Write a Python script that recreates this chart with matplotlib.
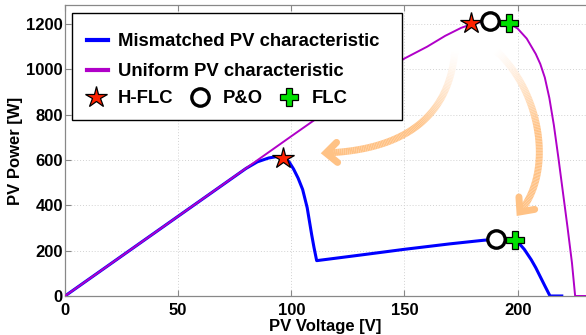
import numpy as np
import matplotlib
matplotlib.use('Agg')
import matplotlib.pyplot as plt
from matplotlib.lines import Line2D
from matplotlib.patches import Rectangle
from matplotlib.collections import LineCollection

plt.rcParams['font.family'] = ['Liberation Sans', 'DejaVu Sans']
plt.rcParams['font.weight'] = 'bold'

# ---------------- data ----------------
v_uniform = [0, 50, 100, 140, 150, 160, 168, 175, 180, 185, 189, 193, 196, 200,
             204, 208, 210, 212, 214, 216, 218, 220, 222, 224, 225.4, 230.2]
p_uniform = [0, 352, 705, 985, 1048, 1100, 1148, 1183, 1201, 1211, 1214, 1211, 1204, 1180,
             1136, 1068, 1024, 964, 874, 754, 610, 458, 306, 146, 0, 0]

v_mismatch = [0, 50, 80, 85, 90, 93.5, 97, 99, 101, 103, 105, 107, 109, 110, 111.2,
              130, 150, 170, 185, 190, 194, 197, 199, 201, 203, 206, 208, 210, 212, 214.3, 219.5]
p_mismatch = [0, 352, 563, 592, 609, 615, 610, 592, 560, 520, 470, 390, 270, 215, 156,
              180, 206, 230, 246, 250, 252, 250, 245, 228, 205, 160, 125, 85, 45, 0, 0]

hflc_v = [179.3, 96.5]
hflc_p = [1204, 611]
po_v = [187.8, 190.5]
po_p = [1212, 250]
flc_v = [196.3, 198.8]
flc_p = [1204, 247]

x_ticks = [0, 50, 100, 150, 200]
y_ticks = [0, 200, 400, 600, 800, 1000, 1200]

# arrow annotations (Bezier control points, data units)
arrow1_v = [172.3, 168.8, 115.3]
arrow1_p = [1086, 653, 631]
arrow2_v = [190.0, 209.9, 216.5, 201.0]
arrow2_p = [1086, 909, 556, 371]

labels_lines = ['Mismatched PV characteristic', 'Uniform PV characteristic']
labels_markers = ['H-FLC', 'P&O', 'FLC']

BLUE = '#0000FF'
MAG = '#B000C8'
RED = '#FF2200'
GREEN = '#00E000'
ORANGE = np.array([1.0, 0.76, 0.52])

# ---------------- figure ----------------
fig = plt.figure(figsize=(5.86, 3.35), dpi=100)
ax = fig.add_axes([65/586, 39/335, 521/586, 291/335])
ax.set_xlim(0, 230.2)
ax.set_ylim(0, 1284)

ax.plot(v_mismatch, p_mismatch, color=BLUE, lw=2.2, zorder=2, solid_joinstyle='round')
ax.plot(v_uniform, p_uniform, color=MAG, lw=1.4, zorder=3, solid_joinstyle='round')

ax.plot(hflc_v, hflc_p, ls='none', marker='*', ms=16, mfc=RED, mec='k', mew=0.9, zorder=4)
ax.plot(po_v, po_p, ls='none', marker='o', ms=12.5, mfc='white', mec='k', mew=2.4, zorder=4)
ax.plot(flc_v, flc_p, ls='none', marker='P', ms=13, mfc=GREEN, mec='k', mew=0.9, zorder=4)

ax.set_xticks(x_ticks)
ax.set_yticks(y_ticks)
ax.grid(True, color='#d2d2d2', linestyle=(0, (1, 2)), lw=0.7)
ax.set_axisbelow(True)
for s in ['top', 'bottom', 'left']:
    ax.spines[s].set_color('#888888')
    ax.spines[s].set_linewidth(0.9)
ax.spines['right'].set_visible(False)
ax.tick_params(axis='both', direction='in', length=4, color='#888888',
               labelsize=12, top=True, right=False)
ax.tick_params(axis='x', pad=5)
ax.tick_params(axis='y', pad=1.5)
ax.set_xlabel('PV Voltage [V]', fontsize=12, fontweight='bold', labelpad=0.5)
ax.set_ylabel('PV Power [W]', fontsize=12, fontweight='bold', labelpad=2)


# ---------------- arrows ----------------
def bezier(pts, t):
    pts = np.asarray(pts, float)
    out = []
    for tt in t:
        p = pts.copy()
        while len(p) > 1:
            p = (1 - tt) * p[:-1] + tt * p[1:]
        out.append(p[0])
    return np.array(out)


def draw_arrow(vs, ps):
    ctrl = ax.transData.transform(np.column_stack([vs, ps]))
    t = np.linspace(0, 1, 120)
    pts = bezier(ctrl, t)
    segs = np.stack([pts[:-1], pts[1:]], axis=1)
    a = np.clip(t[:-1] / 0.5, 0, 1) ** 1.2
    cols = np.array([(1 - x) * np.ones(3) + x * ORANGE for x in a])
    lc = LineCollection(segs, colors=cols, linewidths=5, capstyle='butt',
                        transform=None, zorder=3.5)
    fig.add_artist(lc)
    tip = pts[-1]
    d = pts[-1] - pts[-4]
    d = d / np.linalg.norm(d)
    arms = []
    for ang in (np.deg2rad(42), -np.deg2rad(42)):
        rot = np.array([[np.cos(ang), -np.sin(ang)], [np.sin(ang), np.cos(ang)]])
        arms.append(tip - 15 * rot @ d)
    head = np.array([arms[0], tip, arms[1]])
    ln = Line2D(head[:, 0], head[:, 1], color=ORANGE, lw=5, transform=None,
                solid_capstyle='round', solid_joinstyle='miter', zorder=3.6)
    fig.add_artist(ln)


draw_arrow(arrow1_v, arrow1_p)
draw_arrow(arrow2_v, arrow2_p)

# ---------------- legend ----------------
frame = Rectangle((0.0134, 0.6048), 0.6334, 0.3677, transform=ax.transAxes,
                  fc='white', ec='black', lw=1.0, zorder=6, clip_on=False)
ax.add_patch(frame)

h_lines = [Line2D([], [], color=BLUE, lw=3), Line2D([], [], color=MAG, lw=3)]
leg1 = ax.legend(h_lines, labels_lines, loc='upper left', bbox_to_anchor=(0.0422, 0.9038),
                 frameon=False, fontsize=13.3, handlelength=1.14, handletextpad=0.54,
                 labelspacing=0.72, borderpad=0, borderaxespad=0)
leg1.set_zorder(7)
ax.add_artist(leg1)

h_marks = [Line2D([], [], ls='none', marker='*', ms=16, mfc=RED, mec='k', mew=0.9),
           Line2D([], [], ls='none', marker='o', ms=12.5, mfc='white', mec='k', mew=2.4),
           Line2D([], [], ls='none', marker='P', ms=13, mfc=GREEN, mec='k', mew=0.9)]
leg2 = ax.legend(h_marks, labels_markers, loc='upper left', bbox_to_anchor=(0.038, 0.7079),
                 ncol=3, frameon=False, fontsize=13.3, handlelength=1.2, handletextpad=0.6,
                 columnspacing=0.85, borderpad=0, borderaxespad=0)
leg2.set_zorder(7)

fig.savefig('out.png', dpi=100)
